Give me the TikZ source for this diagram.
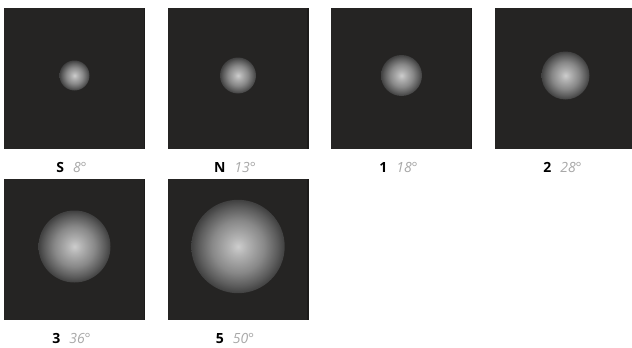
\documentclass[tikz,border=0pt]{standalone}
\usepackage{fontspec}
\setsansfont{Open Sans}
\usetikzlibrary{calc}

\definecolor{panelbg}{HTML}{252423}
\definecolor{paneledge}{HTML}{1C1B1A}
\definecolor{spotcore}{HTML}{CDCDCD}
\definecolor{spotinner}{HTML}{B2B2B2}
\definecolor{spotmid}{HTML}{888888}
\definecolor{spotouter}{HTML}{5C5C5C}
\definecolor{spotrim}{HTML}{404040}
\definecolor{degreegray}{HTML}{A8A8A8}

\pgfdeclareradialshading{spotshade}{\pgfpoint{0bp}{0bp}}{%
  color(0bp)=(spotcore); color(5bp)=(spotinner); color(14bp)=(spotmid);
  color(21bp)=(spotouter); color(25bp)=(spotrim); color(50bp)=(spotrim)}

\begin{document}
\begin{tikzpicture}[x=1pt, y=-1pt, font=\sffamily\fontsize{14}{16}\selectfont,
    panel/.style={fill=panelbg, minimum size=141pt, inner sep=0pt, outer sep=0pt, anchor=north west},
    caption/.style={inner sep=0pt}]

    % 1. Frame of the whole figure
    \useasboundingbox (0,0) rectangle (632,348);
    \clip (0,0) rectangle (632,348);

    % 2. One dark panel per setting, with its spot and its caption
    \foreach \px/\py/\lab/\deg/\rad in {4/8/S/8/15, 167.5/8/N/13/18, 331/8/1/18/20.5,
                                        495/8/2/28/24, 4/179/3/36/36, 167.5/179/5/50/46.7} {
        \node[panel] (panel\lab) at (\px,\py) {};
        \fill[paneledge] ($(panel\lab.north east)+(-1.5,0)$) rectangle (panel\lab.south east);

        % the soft spot, slightly above the panel centre
        \coordinate (spot\lab) at ($(panel\lab.center)+(0,-3)$);
        \shade[shading=spotshade] (spot\lab) circle (\rad);

        % caption: bold setting, grey italic angle
        \node[caption] (caption\lab) at ($(panel\lab.south)+(-3,18)$)
            {\textbf{\lab}\hspace{9pt}{\color{degreegray}\itshape\deg°}};
    }

\end{tikzpicture}
\end{document}
